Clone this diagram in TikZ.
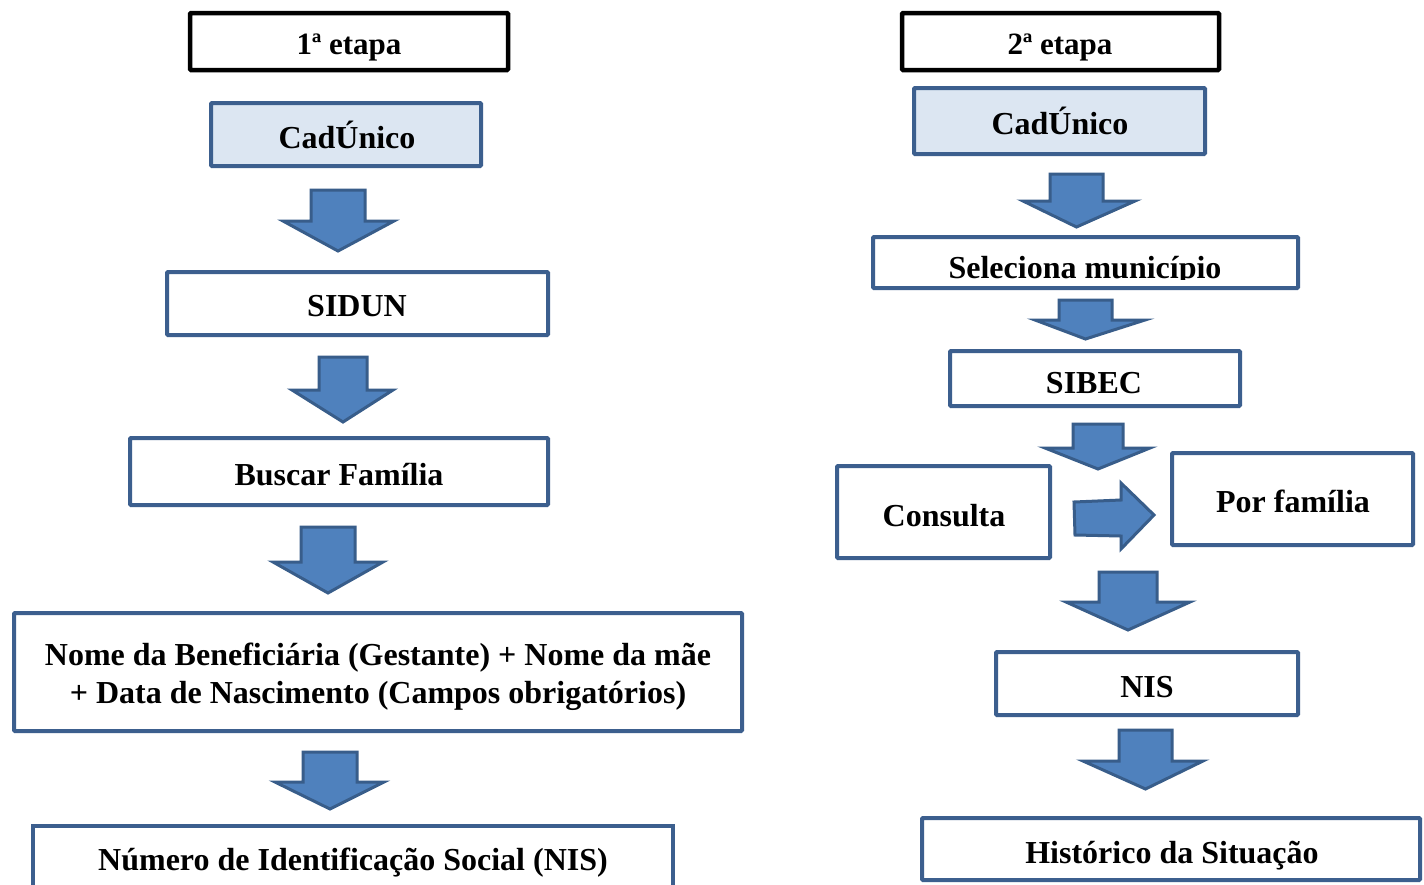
\documentclass[tikz,border=0pt]{standalone}
\usepackage{fontspec}
\setmainfont{Liberation Serif}
\definecolor{bordblue}{HTML}{3C5F8E}
\definecolor{arrfill}{HTML}{4F81BD}
\definecolor{arrline}{HTML}{385D8A}
\definecolor{lightfill}{HTML}{DCE6F2}
\tikzset{
  box/.style={draw=bordblue, line width=4pt, fill=white, rounded corners=1pt, align=center,
    font=\fontsize{32}{38}\selectfont\bfseries, inner sep=0pt},
  blackbox/.style={box, draw=black, line width=4.5pt},
  bluebox/.style={box, fill=lightfill},
  blockarrow/.style={draw=arrline, fill=arrfill, line width=3pt, line join=miter},
  lbl/.style={font=\fontsize{32}{38}\selectfont\bfseries, inner sep=0pt, anchor=base}
}
% down arrow: #1 shaft left x, #2 shaft right x, #3 top y, #4 head base y, #5 head left x, #6 head right x, #7 tip y
\newcommand\blockdown[7]{%
  \draw[blockarrow] (#1,#3) -- (#2,#3) -- (#2,#4) -- (#6,#4) -- ({(#1+#2)/2},#7) -- (#5,#4) -- (#1,#4) -- cycle;}
\newcommand\boxat[6]{% name, style, x1, y1, x2, y2
  \node[#2, minimum width={(#5-#3)*1pt-4pt}, minimum height={(#6-#4)*1pt-4pt}] (#1) at ({(#3+#5)/2},{(#4+#6)/2}) {};}
\begin{document}
\begin{tikzpicture}[x=1pt,y=-1pt]
\useasboundingbox (0,0) rectangle (1424,884);
\fill[white] (0,0) rectangle (1424,884);

% ---------- Left column ----------
\boxat{e1}{blackbox}{188}{11}{510}{72}
\node[lbl, font=\fontsize{31}{38}\selectfont\bfseries] (t1) at (349,54) {1ª etapa};
\boxat{cad1}{bluebox}{209}{101}{483}{168}
\node[lbl] (tcad1) at (347,148) {CadÚnico};
\blockdown{311}{365}{190}{221}{283}{394}{251}
\boxat{sidun}{box}{165}{270}{550}{337}
\node[lbl] (tsidun) at (357,316) {SIDUN};
\blockdown{319}{367}{357}{390}{292}{393}{422}
\boxat{busca}{box}{128}{436}{550}{507}
\node[lbl] (tbusca) at (339,485) {Buscar Família};
\blockdown{301}{355}{527}{562}{273}{383}{593}
\boxat{nome}{box}{12}{611}{744}{733}
\node[lbl] (tnome1) at (378,665) {Nome da Beneficiária (Gestante) + Nome da mãe};
\node[lbl] (tnome2) at (378,703) {+ Data de Nascimento (Campos obrigatórios)};
\blockdown{303}{357}{752}{782}{275}{384}{809}
\node[draw=bordblue, line width=4pt, minimum width=640pt, minimum height=80pt, inner sep=0pt] (nis1) at (353,866) {};
\node[lbl] (tnis1) at (353,870) {Número de Identificação Social (NIS)};

% ---------- Right column ----------
\boxat{e2}{blackbox}{900}{11}{1221}{72}
\node[lbl, font=\fontsize{31}{38}\selectfont\bfseries] (t2) at (1060,54) {2ª etapa};
\boxat{cad2}{bluebox}{912}{86}{1207}{156}
\node[lbl] (tcad2) at (1060,134) {CadÚnico};
\blockdown{1050}{1103}{174}{201}{1023}{1135}{227}
\boxat{sel}{box}{871}{235}{1300}{290}
\begin{scope}
  \clip (871,235) rectangle (1300,279);
  \node[lbl] (tsel) at (1085,278) {Seleciona município};
\end{scope}
\blockdown{1059}{1112}{300}{320}{1035}{1145}{339}
\boxat{sibec}{box}{948}{349}{1242}{408}
\node[lbl] (tsibec) at (1094,393) {SIBEC};
\blockdown{1073}{1123}{424}{448}{1045}{1150}{469}
\boxat{cons}{box}{835}{464}{1052}{560}
\node[lbl] (tcons) at (944,526) {Consulta};
\boxat{fam}{box}{1170}{451}{1415}{547}
\node[lbl] (tfam) at (1293,512) {Por família};
\draw[blockarrow] (1074,502) -- (1121,500) -- (1121,483) -- (1154,515) -- (1121,549) -- (1121,536) -- (1075,535) -- cycle;
\blockdown{1099}{1157}{572}{602}{1066}{1190}{630}
\boxat{nis2}{box}{994}{650}{1300}{717}
\node[lbl] (tnis2) at (1147,697) {NIS};
\blockdown{1119}{1172}{730}{761}{1083}{1203}{789}
\boxat{hist}{box}{920}{816}{1422}{882}
\node[lbl] (thist) at (1172,863) {Histórico da Situação};
\end{tikzpicture}
\end{document}
